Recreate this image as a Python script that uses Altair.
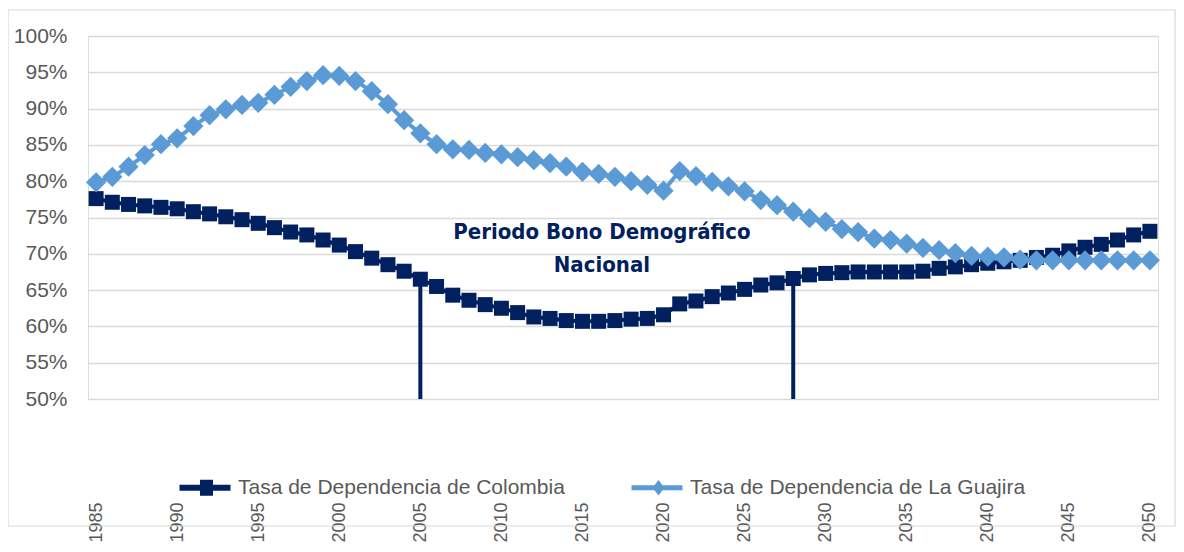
import altair as alt
import pandas as pd

years = list(range(1985, 2051))

colombia = [77.6, 77.1, 76.8, 76.6, 76.4, 76.2, 75.8, 75.5, 75.1, 74.7,
            74.2, 73.6, 73.0, 72.6, 71.9, 71.2, 70.3, 69.4, 68.5, 67.6,
            66.5, 65.5, 64.3, 63.6, 63.0, 62.5, 61.9, 61.3, 61.1, 60.8,
            60.7, 60.7, 60.8, 61.0, 61.1, 61.6, 63.1, 63.5, 64.1, 64.6,
            65.1, 65.7, 66.0, 66.6, 67.1, 67.3, 67.4, 67.5, 67.5, 67.5,
            67.5, 67.6, 68.0, 68.2, 68.5, 68.7, 68.9, 69.1, 69.5, 69.8,
            70.4, 70.9, 71.3, 71.9, 72.6, 73.1]

guajira = [79.85, 80.6, 82.0, 83.6, 85.1, 85.9, 87.6, 89.1, 89.9, 90.5,
           90.8, 91.9, 93.0, 93.8, 94.6, 94.5, 93.8, 92.4, 90.6, 88.4,
           86.6, 85.1, 84.4, 84.3, 83.9, 83.7, 83.3, 82.9, 82.5, 82.0,
           81.3, 81.0, 80.6, 80.0, 79.5, 78.7, 81.4, 80.7, 79.9, 79.3,
           78.6, 77.4, 76.7, 75.8, 74.9, 74.4, 73.4, 73.0, 72.1, 71.9,
           71.4, 70.8, 70.5, 70.1, 69.7, 69.6, 69.5, 69.2, 69.1, 69.1,
           69.1, 69.1, 69.1, 69.1, 69.1, 69.1]

series_names = ["Tasa de Dependencia de Colombia", "Tasa de Dependencia de La Guajira"]
series_colors = ["#002060", "#5B9BD5"]

bono_years = [2005, 2028]
annotation_lines = ["Periodo Bono Demográfico", "Nacional"]
annotation_x = [2016.2, 2016.2]
annotation_y = [0.7304, 0.6846]

y_ticks = [0.50, 0.55, 0.60, 0.65, 0.70, 0.75, 0.80, 0.85, 0.90, 0.95, 1.00]
x_ticks = list(range(1985, 2051, 5))

rows = []
for s, vals in zip(series_names, [colombia, guajira]):
    for yr, v in zip(years, vals):
        rows.append({"year": yr, "value": v / 100.0, "serie": s})
df = pd.DataFrame(rows)

col_lookup = dict(zip(years, colombia))
df_rules = pd.DataFrame({"year": bono_years,
                         "top": [col_lookup[y] / 100.0 for y in bono_years],
                         "bottom": [0.5 for _ in bono_years]})
df_ann = pd.DataFrame({"x": annotation_x, "y": annotation_y, "t": annotation_lines})

FONT = "Liberation Sans"
GRAY = "#595959"

xscale = alt.Scale(domain=[1984.5, 2050.5], nice=False, zero=False)
yscale = alt.Scale(domain=[0.5, 1.0], nice=False, zero=False)

x_enc = alt.X("year:Q", scale=xscale,
              axis=alt.Axis(values=x_ticks, tickCount=len(x_ticks), format="d",
                            labelAngle=-90, grid=False,
                            domain=False, ticks=False, offset=103, labelPadding=0,
                            labelFont=FONT, labelFontSize=18, labelColor=GRAY,
                            title=None, labelFlush=False, labelOverlap=False))
y_enc = alt.Y("value:Q", scale=yscale,
              axis=alt.Axis(values=y_ticks, tickCount=len(y_ticks), format=".0%",
                            grid=True, gridColor="#D9D9D9",
                            gridWidth=1.5, domain=False, ticks=False, labelPadding=21,
                            labelFont=FONT, labelFontSize=21, labelColor=GRAY,
                            labelOverlap=False, title=None))

path_col = "M-1,-0.3H4.1V0.3H-1Z M1.05,-0.8H2.35V0.8H1.05Z"
path_gua = "M-1,-0.25H4.1V0.25H-1Z M1.7,-0.78L2.3,0L1.7,0.78L1.1,0Z"
shape_expr = "datum.value === '%s' ? '%s' : '%s'" % (series_names[0], path_col, path_gua)

legend = alt.Legend(orient="none", legendX=91, legendY=441, direction="horizontal",
                    title=None, labelFont=FONT, labelFontSize=21, labelColor=GRAY,
                    labelLimit=0, symbolSize=400, labelOffset=38, columnPadding=66,
                    symbolStrokeWidth=0, symbolType=alt.ExprRef(expr=shape_expr))

diamond_path = "M0,-1.35L1.35,0L0,1.35L-1.35,0Z"

base = alt.Chart(df)

# stroke / shape scales take their domain from the data (sorted: Colombia first)
lines = base.mark_line(strokeWidth=4).encode(
    x=x_enc, y=y_enc,
    stroke=alt.Stroke("serie:N", scale=alt.Scale(range=series_colors), legend=None),
    detail="serie:N",
)

points = base.mark_point(filled=True, opacity=1, size=225).encode(
    x="year:Q", y="value:Q",
    color=alt.Color("serie:N", scale=alt.Scale(domain=series_names, range=series_colors),
                    legend=legend),
    shape=alt.Shape("serie:N", scale=alt.Scale(range=["square", diamond_path]),
                    legend=None),
)

rules = alt.Chart(df_rules).mark_rule(color="#002060", strokeWidth=4).encode(
    x="year:Q", y="top:Q", y2="bottom:Q")

ann = alt.Chart(df_ann).mark_text(font="DejaVu Sans Condensed", fontWeight="bold",
                                  fontSize=22, color="#002060").encode(
    x="x:Q", y="y:Q", text="t:N")

frame = alt.Chart(pd.DataFrame({"k": [0]})).mark_rect(
    fill="transparent", stroke="#D9D9D9", strokeWidth=1.2).encode(
    x=alt.value(-80), x2=alt.value(1087), y=alt.value(-26), y2=alt.value(490))

chart = alt.layer(frame, lines, rules, points, ann).properties(
    width=1070, height=363,
    autosize=alt.AutoSizeParams(type="none"),
    padding={"left": 80, "top": 28, "right": 18, "bottom": 145},
).configure_view(stroke=None).configure(background="white")

chart.save("out.html", embed_options={"renderer": "svg", "actions": False})
